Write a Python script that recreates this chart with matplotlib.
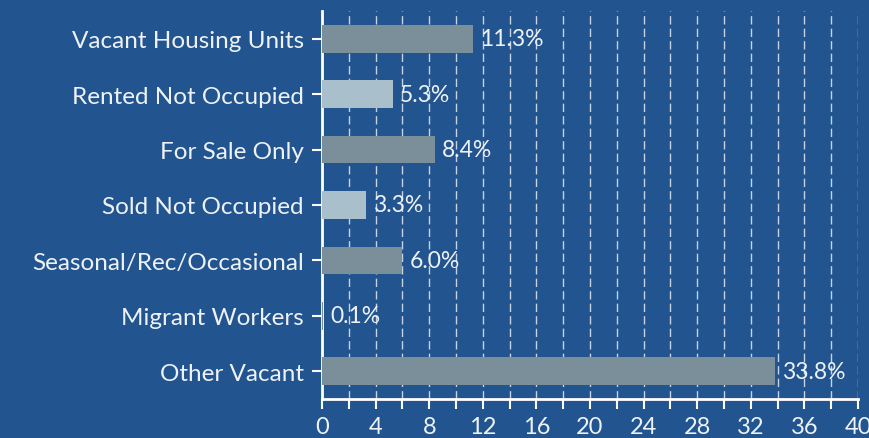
import numpy as np
import matplotlib
matplotlib.use('Agg')
import matplotlib.pyplot as plt

categories = ["Vacant Housing Units", "Rented Not Occupied", "For Sale Only",
              "Sold Not Occupied", "Seasonal/Rec/Occasional", "Migrant Workers",
              "Other Vacant"]
values = [11.3, 5.3, 8.4, 3.3, 6.0, 0.1, 33.8]
labels = ["11.3%", "5.3%", "8.4%", "3.3%", "6.0%", "0.1%", "33.8%"]
shades = ["dark", "light", "dark", "light", "dark", "dark", "dark"]

bg = '#22548f'
colors = {'dark': '#7a8f99', 'light': '#a9bfcc'}
txt = '#eef2f7'

plt.rcParams['font.family'] = ['Lato', 'DejaVu Sans']

fig = plt.figure(figsize=(8.7, 4.39), dpi=100, facecolor=bg)
ax = fig.add_axes([322/870, 1 - 400/439, 536/870, 388/439], facecolor=bg)

y = np.arange(len(categories))
ax.barh(y, values, height=0.5, color=[colors[s] for s in shades], zorder=3)
for yi, v, lab in zip(y, values, labels):
    ax.annotate(lab, (v, yi), xytext=(5, 0), textcoords='offset points',
                va='center', ha='left', color=txt, fontsize=16.5, zorder=4)

ax.set_ylim(len(categories) - 0.5, -0.5)
ax.set_xlim(0, 40)
ax.set_yticks(y)
ax.set_yticklabels(categories)
ax.set_xticks(np.arange(0, 41, 4))
ax.set_xticks(np.arange(0, 41, 2), minor=True)

ax.grid(axis='x', which='both', color='white', linestyle=(0, (6, 3)),
        linewidth=1.0, alpha=0.75, zorder=1)

for side in ['top', 'right']:
    ax.spines[side].set_visible(False)
for side in ['left', 'bottom']:
    ax.spines[side].set_color('white')
    ax.spines[side].set_linewidth(2)

ax.tick_params(axis='y', colors='white', length=7, width=1.5, pad=6,
               labelsize=17.5, labelcolor=txt)
ax.tick_params(axis='x', which='both', colors='white', length=7, width=1.5,
               pad=5, labelsize=17, labelcolor=txt)

plt.savefig('out.png', dpi=100, facecolor=bg)
